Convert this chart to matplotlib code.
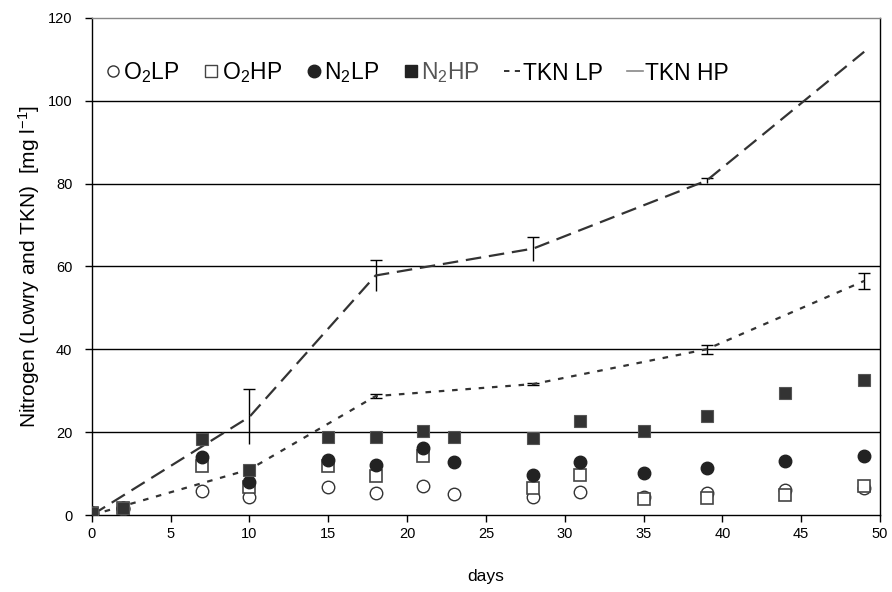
import matplotlib.pyplot as plt
from matplotlib.lines import Line2D

plt.rcParams['font.family'] = ['Liberation Sans', 'DejaVu Sans']
plt.rcParams['mathtext.fontset'] = 'custom'
plt.rcParams['mathtext.rm'] = 'Liberation Sans'
plt.rcParams['mathtext.it'] = 'Liberation Sans'

# sampling days for Lowry protein nitrogen
days = [0, 2, 7, 10, 15, 18, 21, 23, 28, 31, 35, 39, 44, 49]
o2_lp = [0.6, 1.5, 5.8, 4.4, 6.8, 5.3, 7.0, 5.1, 4.3, 5.5, 4.4, 5.3, 6.0, 6.5]
o2_hp = [0.6, 1.6, 11.8, 6.8, 11.9, 9.4, 14.3, None, 6.5, 9.7, 3.8, 4.1, 4.8, 7.0]
n2_lp = [0.6, 1.6, 14.0, 8.0, 13.3, 12.1, 16.1, 12.9, 9.7, 12.8, 10.1, 11.3, 13.0, 14.2]
n2_hp = [0.6, 1.7, 18.3, 10.9, 18.8, 18.9, 20.4, 18.9, 18.6, 22.7, 20.2, 23.9, 29.4, 32.6]

# TKN with standard deviations
tkn_days = [0, 10, 18, 28, 39, 49]
tkn_lp = [0, 23.7, 57.8, 64.3, 80.7, 111.8]
tkn_lp_err = [0, 6.6, 3.7, 2.9, 0.6, 0]
tkn_hp = [0, 11.0, 28.7, 31.6, 40.0, 56.5]
tkn_hp_err = [0, 0, 0.4, 0.2, 1.1, 2.0]


def drop_none(x, y):
    pairs = [(a, b) for a, b in zip(x, y) if b is not None]
    return [p[0] for p in pairs], [p[1] for p in pairs]


fig = plt.figure(figsize=(8.92, 5.92), dpi=100)
ax = fig.add_axes([0.103, 0.130, 0.8835, 0.840])

for yv in [20, 40, 60, 80, 100]:
    ax.axhline(yv, color='black', lw=1.0, zorder=1)

# LP: only the upper cap is shown
lp = ax.errorbar(tkn_days, tkn_lp, yerr=tkn_lp_err, color='#333333', lw=1.6,
                 dashes=(7, 3.5), ecolor='black', elinewidth=1.0, capsize=4,
                 capthick=1.0, errorevery=[e > 0 for e in tkn_lp_err], zorder=3)
lp[1][0].set_visible(False)
ax.errorbar(tkn_days, tkn_hp, yerr=tkn_hp_err, color='#333333', lw=1.6,
            dashes=(2.5, 3.5), ecolor='black', elinewidth=1.0, capsize=4,
            capthick=1.0, errorevery=[e > 0 for e in tkn_hp_err], zorder=3)

x, y = drop_none(days, o2_lp)
ax.plot(x, y, 'o', ms=9, mfc='white', mec='#333333', mew=1.0, ls='none', zorder=4)
x, y = drop_none(days, o2_hp)
ax.plot(x, y, 's', ms=8.5, mfc='white', mec='#444444', mew=1.2, ls='none', zorder=5)
x, y = drop_none(days, n2_lp)
ax.plot(x, y, 'o', ms=9, mfc='#222222', mec='#222222', ls='none', zorder=6)
x, y = drop_none(days, n2_hp)
ax.plot(x, y, 's', ms=8.5, mfc='#333333', mec='#555555', mew=0.8, ls='none', zorder=7)

ax.set_xlim(0, 50)
ax.set_ylim(0, 120)
ax.set_xticks(range(0, 51, 5))
ax.set_yticks(range(0, 121, 20))
ax.tick_params(direction='out', length=5, width=1, labelsize=10.5, colors='black')
ax.tick_params(axis='y', pad=9)
for sp in ax.spines.values():
    sp.set_color('black')
    sp.set_linewidth(1.0)
ax.spines['top'].set_color('#888888')

ax.set_xlabel('days', fontsize=12.5, labelpad=20)
ax.set_ylabel(r'Nitrogen (Lowry and TKN)  [mg l$^{\mathregular{-1}}$]', fontsize=15, labelpad=4)

handles = [
    Line2D([], [], marker='o', ms=8, mfc='white', mec='#333333', ls='none'),
    Line2D([], [], marker='s', ms=8, mfc='white', mec='#444444', ls='none'),
    Line2D([], [], marker='o', ms=9, mfc='#222222', mec='#222222', ls='none'),
    Line2D([], [], marker='s', ms=8.5, mfc='#222222', mec='#222222', ls='none'),
    Line2D([], [], color='#222222', lw=1.3, dashes=(3, 3)),
    Line2D([], [], color='#888888', lw=1.2),
]
labels = [r'O$_\mathregular{2}$LP', r'O$_\mathregular{2}$HP', r'N$_\mathregular{2}$LP',
          r'N$_\mathregular{2}$HP', 'TKN LP', 'TKN HP']
leg = ax.legend(handles, labels, ncol=6, loc='center left', bbox_to_anchor=(0.016, 0.889),
                frameon=False, fontsize=16.5, handlelength=0.7, handletextpad=0.1,
                columnspacing=1.05, borderaxespad=0, borderpad=0)
leg.get_texts()[3].set_color('#555555')
leg.set_zorder(10)

fig.savefig('out.png', dpi=100)
